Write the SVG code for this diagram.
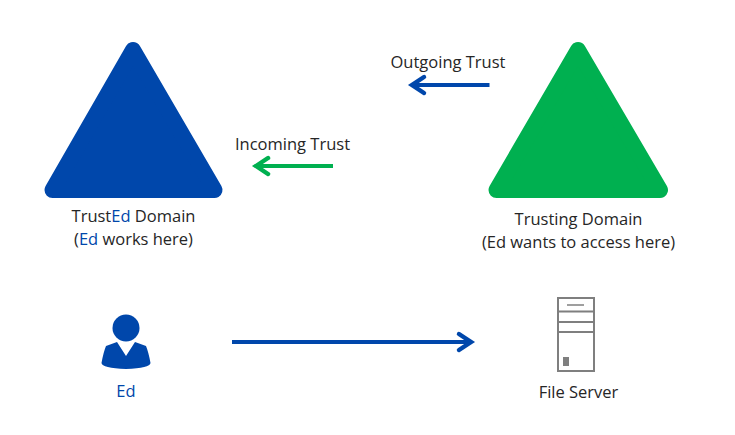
<svg xmlns="http://www.w3.org/2000/svg" width="735" height="435" viewBox="0 0 735 435">
  <style>
    text { font-family: "Open Sans", "Noto Sans", sans-serif; font-size: 16.5px; fill: #262626; text-anchor: middle; }
    .ed { fill: #0047AB; }
    .line { fill: none; stroke-width: 4; stroke-linejoin: round; stroke-linecap: butt; }
    .head { fill: none; stroke-width: 4.5; stroke-linecap: round; stroke-linejoin: miter; }
    .blue { stroke: #0047AB; }
    .green { stroke: #00B050; }
    .rack { fill: none; stroke: #7F7F7F; stroke-width: 2; }
  </style>
  <rect width="735" height="435" fill="#FFFFFF"/>

  <g id="trusted-domain">
    <polygon points="133,50 214.500,190 52.500,190" fill="#0047AB" stroke="#0047AB" stroke-width="16" stroke-linejoin="round"/>
    <text x="133.500" y="222">Trust<tspan class="ed">Ed</tspan> Domain</text>
    <text x="133.500" y="245">(<tspan class="ed">Ed</tspan> works here)</text>
  </g>

  <g id="trusting-domain">
    <polygon points="578,50 660,190 496.500,190" fill="#00B050" stroke="#00B050" stroke-width="16" stroke-linejoin="round"/>
    <text x="578.500" y="225">Trusting Domain</text>
    <text x="578.500" y="248">(Ed wants to access here)</text>
  </g>

  <g id="user-ed">
    <circle cx="126" cy="328" r="13.500" fill="#0047AB"/>
    <path d="M117,342 L126,356 L135,342 L146,346 Q148.500,352 150.500,363 Q150,368 126,369 Q102,368 101.500,363 Q103.500,352 106,346 Z" fill="#0047AB"/>
    <text class="ed" x="126" y="397">Ed</text>
  </g>

  <g id="file-server">
    <rect class="rack" x="558" y="298" width="36" height="73"/>
    <path class="rack" d="M558,311.500 H594 M558,322 H594 M558,332 H594"/>
    <path d="M567,305 H584" fill="none" stroke="#7F7F7F" stroke-width="1.500"/>
    <rect x="563" y="357" width="6" height="9" fill="#7F7F7F"/>
    <text x="578.500" y="398">File Server</text>
  </g>

  <g id="outgoing-label"><text x="448" y="68">Outgoing Trust</text></g>
  <g id="incoming-label"><text x="292.500" y="150">Incoming Trust</text></g>

  <g id="connectors">
    <path class="line blue" d="M489.500,85 H413"/>
    <path class="head blue" d="M424,77 L412,85 L424,93"/>
    <path class="line green" d="M333,166 H257"/>
    <path class="head green" d="M268,158 L256,166 L268,174"/>
    <path class="line blue" d="M232,342 H469"/>
    <path class="head blue" d="M459,334 L471,342 L459,350"/>
  </g>
</svg>
